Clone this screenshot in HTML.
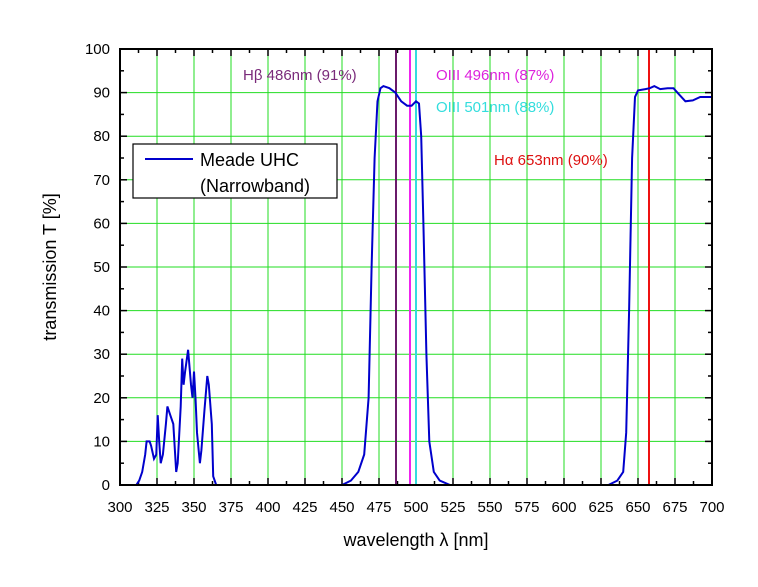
<!DOCTYPE html>
<html><head><meta charset="utf-8"><style>
body{margin:0;background:#fff;}
svg text{font-family:"Liberation Sans",Arial,sans-serif;}
</style></head><body>
<svg width="758" height="582" xmlns="http://www.w3.org/2000/svg">
<rect width="758" height="582" fill="#fff"/>
<g id="grid" stroke="#22dd22" stroke-width="1"></g>
<g id="ticks" stroke="#000" stroke-width="1.5"></g>
<line x1="396" y1="49" x2="396" y2="485" stroke="#6a1a6a" stroke-width="2"/>
<line x1="410" y1="49" x2="410" y2="485" stroke="#ee22ee" stroke-width="2"/>
<line x1="416" y1="49" x2="416" y2="485" stroke="#33dddd" stroke-width="2"/>
<line x1="649" y1="49" x2="649" y2="485" stroke="#ee1111" stroke-width="2"/>
<polyline id="curve" fill="none" stroke="#0000cc" stroke-width="2"/>
<rect x="120" y="49" width="592" height="436" fill="none" stroke="#000" stroke-width="2"/>
<g id="labels" font-size="15" fill="#000"></g>
<text x="243" y="80" font-size="15" fill="#7a2a7a">Hβ 486nm (91%)</text>
<text x="436" y="80" font-size="15" fill="#dd22dd">OIII 496nm (87%)</text>
<text x="436" y="112" font-size="15" fill="#33dddd">OIII 501nm (88%)</text>
<text x="494" y="165" font-size="15" fill="#dd1111">Hα 653nm (90%)</text>
<rect x="133" y="144" width="204" height="54" fill="#fff" stroke="#000" stroke-width="1.2"/>
<line x1="145" y1="159" x2="193" y2="159" stroke="#0000cc" stroke-width="2"/>
<text x="200" y="166" font-size="18">Meade UHC</text>
<text x="200" y="192" font-size="18">(Narrowband)</text>
<text x="416" y="546" font-size="18" text-anchor="middle">wavelength λ [nm]</text>
<text transform="translate(56,267) rotate(-90)" font-size="18" text-anchor="middle">transmission T [%]</text>
</svg>
<script>
const X=w=>120+(w-300)*1.48, Y=t=>485-t*4.36;
const ns="http://www.w3.org/2000/svg";
function el(p,n,a,txt){const e=document.createElementNS(ns,n);for(const k in a)e.setAttribute(k,a[k]);if(txt!==undefined)e.textContent=txt;document.getElementById(p).appendChild(e);}
for(let w=325;w<700;w+=25)el("grid","line",{x1:X(w),x2:X(w),y1:49,y2:485});
for(let t=10;t<100;t+=10)el("grid","line",{x1:120,x2:712,y1:Y(t),y2:Y(t)});
for(let w=300;w<=700;w+=12.5){const m=(w%25===0)?7:4;
 el("ticks","line",{x1:X(w),x2:X(w),y1:485,y2:485-m});el("ticks","line",{x1:X(w),x2:X(w),y1:49,y2:49+m});
 if(w%25===0)el("labels","text",{x:X(w),y:512,"text-anchor":"middle"},String(w));}
for(let t=0;t<=100;t+=5){const m=(t%10===0)?7:4;
 el("ticks","line",{x1:120,x2:120+m,y1:Y(t),y2:Y(t)});el("ticks","line",{x1:712,x2:712-m,y1:Y(t),y2:Y(t)});
 if(t%10===0)el("labels","text",{x:110,y:Y(t)+5,"text-anchor":"end"},String(t));}
const d=[[300,0],[311,0],[313,1],[315,3],[317,7],[318,10],[320,10],[321,9],[323,6],[324.5,7],[325.5,16],[326.5,10],[327.5,5],[329,7],[331,14],[332,18],[334,16],[336,14],[338,3],[339,5],[341,18],[342,29],[343,23],[344,26],[346,31],[348,23],[349,20],[350,26],[351,20],[352,12],[354,5],[355,8],[357,17],[359,25],[360,23],[362,14],[363,2],[365,0],
[450,0],[456,1],[461,3],[465,7],[468,20],[470,50],[472,75],[474,88],[476,91],[478,91.5],[482,91],[486,90],[490,88],[494,87],[497,87],[500,88],[502,87.5],[503.5,80],[505,60],[507,30],[509,10],[512,3],[516,1],[523,0],
[630,0],[636,1],[640,3],[642,12],[644,40],[646,75],[648,89],[650,90.5],[655,90.8],[658,91],[661,91.5],[665,90.8],[670,91],[674,91],[678,89.5],[682,88],[687,88.2],[692,89],[700,89]];
document.getElementById("curve").setAttribute("points",d.map(p=>X(p[0]).toFixed(1)+","+Y(p[1]).toFixed(1)).join(" "));
</script>
</body></html>
